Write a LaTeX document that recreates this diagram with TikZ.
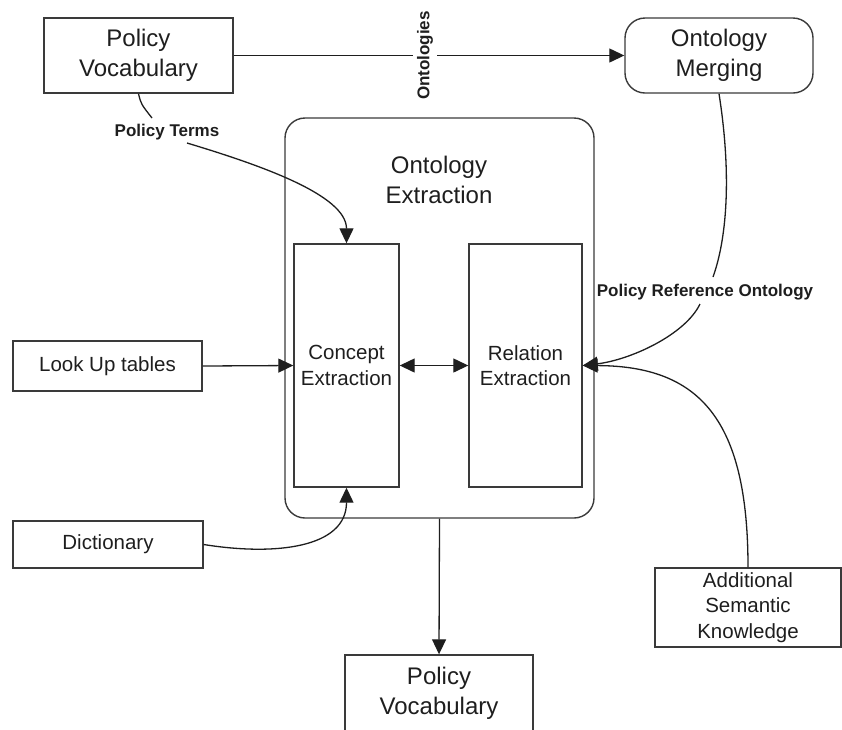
\documentclass[tikz,border=0pt]{standalone}
\usepackage{fontspec}
\setmainfont{Liberation Sans}
\usetikzlibrary{arrows.meta}

\definecolor{ink}{HTML}{1E1E1E}
\definecolor{frame}{HTML}{3A3A3A}

\tikzset{
  box/.style={draw=frame, line width=1.4pt, inner sep=0pt, align=center, text=ink},
  roundbox/.style={box, rounded corners=20pt},
  bigtext/.style={font=\fontsize{24}{30}\selectfont},
  midtext/.style={font=\fontsize{20.5}{25.5}\selectfont},
  tag/.style={font=\fontsize{17}{20}\selectfont\bfseries, text=ink, inner sep=2pt},
  link/.style={draw=ink, line width=1.3pt},
  arr/.style={link, -{Triangle[length=15pt,width=14pt]}},
  darr/.style={link, {Triangle[length=15pt,width=14pt]}-{Triangle[length=15pt,width=14pt]}}
}

\begin{document}
\begin{tikzpicture}[x=1pt, y=-1pt]
  \useasboundingbox (0,0) rectangle (842,729);
  \clip (0,0) rectangle (842,729);

  % top row
  \node[box, bigtext, minimum width=189pt, minimum height=75pt] (pv) at (138.5,55.5) {Policy\\Vocabulary};
  \node[roundbox, bigtext, minimum width=188pt, minimum height=75pt] (om) at (719,55.5) {Ontology\\Merging};

  % extraction container and its two stages
  \node[roundbox, minimum width=309pt, minimum height=400pt] (oe) at (439.5,318) {};
  \node[bigtext, text=ink, align=center] (oelabel) at (439,180) {Ontology\\Extraction};
  \node[box, midtext, minimum width=105pt, minimum height=243pt] (ce) at (346.5,365.5) {Concept\\Extraction};
  \node[box, midtext, minimum width=113pt, minimum height=243pt] (re) at (525.5,365.5) {Relation\\Extraction};

  % inputs and output
  \node[box, midtext, minimum width=189pt, minimum height=50pt] (lut) at (107.5,366) {Look Up tables};
  \node[box, midtext, minimum width=190pt, minimum height=47pt] (dic) at (108,544.5) {Dictionary};
  \node[box, midtext, minimum width=186pt, minimum height=79pt] (ask) at (748,607.5) {Additional\\Semantic\\Knowledge};
  \node[box, bigtext, minimum width=188pt, minimum height=76pt] (pvb) at (439,693) {Policy\\Vocabulary};

  % connector labels
  \node[tag] (pt) at (167,132) {Policy Terms};
  \node[tag] (pro) at (705,292) {Policy Reference Ontology};

  \coordinate (ptA) at (152,118);
  \coordinate (ptB) at (187,143);
  \coordinate (proA) at (713,277);
  \coordinate (proB) at (700,304);

  % connectors
  \draw[arr] (pv.east) -- (om.west)
    node[tag, pos=0.49, rotate=90, fill=white, inner sep=4pt] (onto) {Ontologies};

  \draw[link] (pv.south) .. controls (141,104) .. (ptA);
  \draw[arr] (ptB) .. controls (260,165) and (346.5,195) .. (ce.north);

  \draw[arr] (lut.east) -- (ce.west);
  \draw[darr] (ce.east) -- (re.west);
  \draw[arr] (dic.east) .. controls (275,556) and (346.5,548) .. (ce.south);

  \draw[link] (om.south) .. controls (731,170) and (728,235) .. (proA);
  \draw[arr] (proB) .. controls (685,335) and (630,360) .. (re.east);
  \draw[arr] (ask.north) .. controls (748,420) and (700,366) .. (re.east);

  \draw[arr] (oe.south) -- (pvb.north);
\end{tikzpicture}
\end{document}
